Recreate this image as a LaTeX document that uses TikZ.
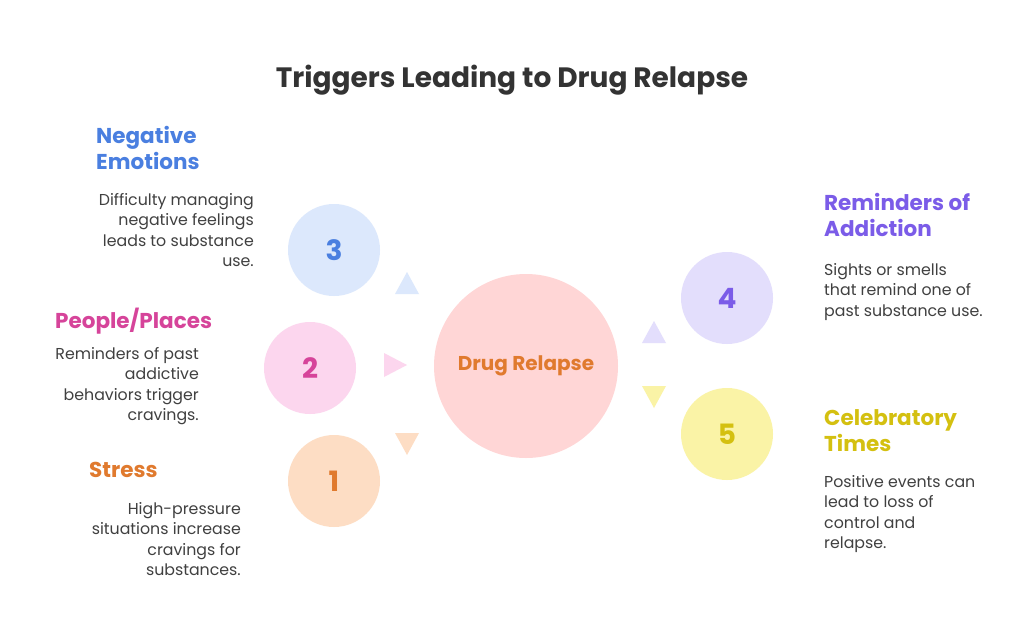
\documentclass[tikz,border=0pt]{standalone}
\usepackage{fontspec}
\setmainfont{Poppins}
\newfontfamily\headfont{Poppins}
\begin{document}
\begin{tikzpicture}[x=1pt,y=-1pt,
  num/.style={circle,minimum size=92pt,inner sep=0pt,font=\headfont\bfseries\fontsize{28}{28}\selectfont},
  head/.style={anchor=north west,align=left,inner sep=0pt,font=\headfont\bfseries\fontsize{21.5}{26.5}\selectfont},
  descl/.style={anchor=north east,align=right,inner sep=0pt,text=black!75,font=\fontsize{15.8}{20.4}\selectfont},
  descr/.style={anchor=north west,align=left,inner sep=0pt,text=black!75,font=\fontsize{15.8}{20.4}\selectfont}]
\definecolor{cblue}{HTML}{4A7FE0}\definecolor{fblue}{HTML}{DCE8FC}
\definecolor{cpink}{HTML}{D6449A}\definecolor{fpink}{HTML}{FCD6EE}
\definecolor{corange}{HTML}{E07A2E}\definecolor{forange}{HTML}{FDDDC4}
\definecolor{cpurple}{HTML}{7B5CE8}\definecolor{fpurple}{HTML}{E3DEFC}
\definecolor{cyellow}{HTML}{D4C010}\definecolor{fyellow}{HTML}{FAF3A6}
\definecolor{fred}{HTML}{FFD6D6}
\useasboundingbox[fill=white] (0,0) rectangle (1024,621);
\node (title) at (512,80) {\headfont\bfseries\fontsize{28}{28}\selectfont\color{black!80}Triggers Leading to Drug Relapse};
\node[circle,fill=fred,minimum size=184pt,inner sep=0pt,text=corange,font=\headfont\bfseries\fontsize{20}{20}\selectfont] (c) at (526,366) {Drug Relapse};
\node[num,fill=fblue,text=cblue] (n3) at (334,250) {3};
\node[num,fill=fpink,text=cpink] (n2) at (310,368) {2};
\node[num,fill=forange,text=corange] (n1) at (334,481) {1};
\node[num,fill=fpurple,text=cpurple] (n4) at (727,298) {4};
\node[num,fill=fyellow,text=cyellow] (n5) at (727,434) {5};
\fill[fblue] (395,294) -- (419,294) -- (407,272) -- cycle;
\fill[fpink] (384,353) -- (384,377) -- (407,365) -- cycle;
\fill[forange] (395,433) -- (419,433) -- (407,455) -- cycle;
\fill[fpurple] (642,343) -- (666,343) -- (654,321) -- cycle;
\fill[fyellow] (642,386) -- (666,386) -- (654,408) -- cycle;
\node[head,text=cblue] (h3) at (96,126) {Negative\\Emotions};
\node[descl] (d3) at (254,193) {Difficulty managing\\negative feelings\\leads to substance\\use.};
\node[head,text=cpink] (h2) at (55,308) {People/Places};
\node[descl] (d2) at (199,347) {Reminders of past\\addictive\\behaviors trigger\\cravings.};
\node[head,text=corange] (h1) at (89,462) {Stress};
\node[descl] (d1) at (241,502) {High-pressure\\situations increase\\cravings for\\substances.};
\node[head,text=cpurple] (h4) at (824,193) {Reminders of\\Addiction};
\node[descr] (d4) at (824,263) {Sights or smells\\that remind one of\\past substance use.};
\node[head,text=cyellow] (h5) at (824,409) {Celebratory\\Times};
\node[descr] (d5) at (824,475) {Positive events can\\lead to loss of\\control and\\relapse.};
\end{tikzpicture}
\end{document}
